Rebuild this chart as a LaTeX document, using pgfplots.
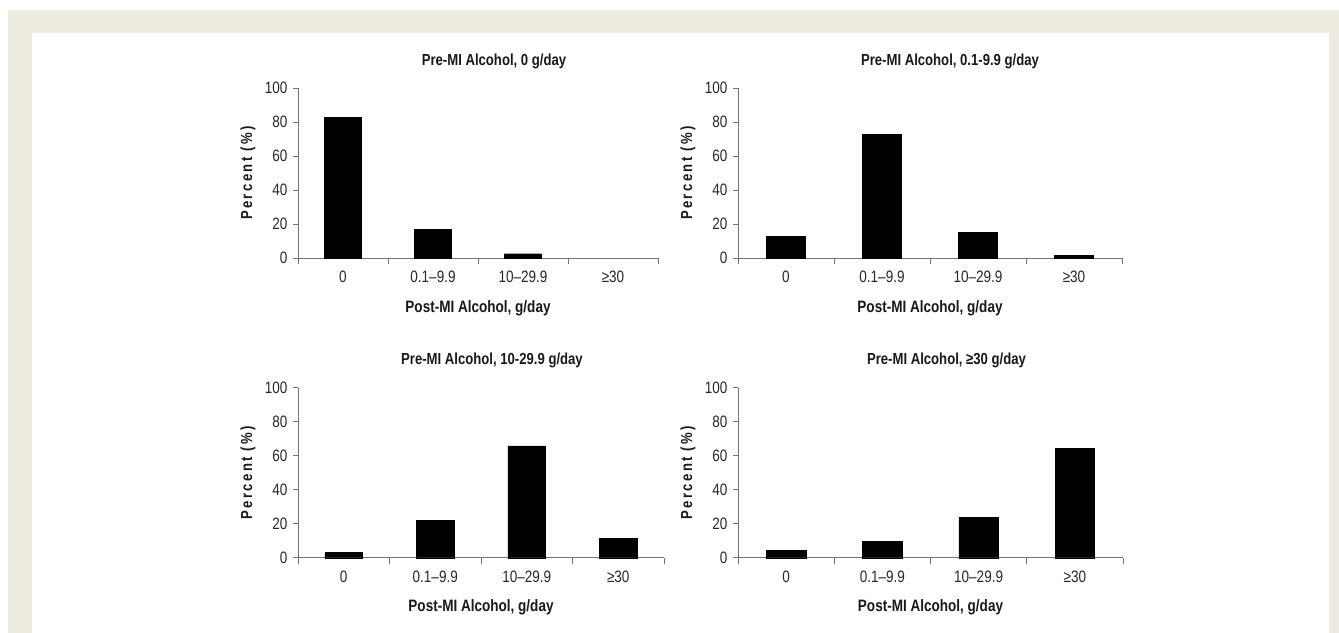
\documentclass[border=0pt]{standalone}
\usepackage{fontspec}
\setmainfont{Liberation Sans}[FakeStretch=0.82]
\usepackage{pgfplots}
\pgfplotsset{compat=1.18}
\usetikzlibrary{calc}

\definecolor{framebg}{RGB}{238,235,225}
\definecolor{axgray}{RGB}{115,115,115}
\definecolor{txt}{RGB}{40,40,40}

\pgfplotsset{
  panel/.style={
    scale only axis, height=170bp,
    ymin=0, ymax=100, ytick={0,20,...,100},
    xmin=-0.5, xmax=3.5,
    axis x line*=bottom, axis y line*=left,
    axis line style={axgray, line width=0.8bp},
    every tick/.style={axgray, line width=0.8bp},
    tick align=outside,
    major tick length=5bp, minor tick length=6bp,
    xtick={0,1,2,3},
    xticklabels={0,{0.1–9.9},{10–29.9},{≥30}},
    major x tick style={draw=none},
    minor xtick={-0.5,0.5,1.5,2.5,3.5},
    /pgf/number format/assume math mode=true,
    tick label style={font=\fontsize{16.5bp}{18bp}\selectfont, text=txt},
    xticklabel style={anchor=center, yshift=-14bp},
    yticklabel style={anchor=east, xshift=-2bp},
    every axis title/.style={at={(axis description cs:0.5,1)}, anchor=center,
      yshift=27bp, font=\fontsize{16bp}{18bp}\selectfont\bfseries, text=black!90},
    every axis x label/.style={at={(axis description cs:0.5,0)}, anchor=center,
      yshift=-50bp, font=\fontsize{16.5bp}{18bp}\selectfont\bfseries, text=black!90},
    every axis y label/.style={at={($(axis description cs:0,0.5)+(-50bp,0)$)}, anchor=center,
      rotate=90, font=\fontsize{16bp}{18bp}\selectfont\bfseries\addfontfeature{LetterSpace=15}, text=black!90},
    xlabel={Post-MI Alcohol, g/day},
    ylabel={Percent (\%)},
    clip=false,
  },
  bars/.style={ybar, bar width=0.41, bar shift=0, fill=black, draw=black},
}

\begin{document}
\begin{tikzpicture}
  % background and beige frame
  \fill[white] (0,0) rectangle (1339bp,633bp);
  \fill[framebg] (8bp,0) rectangle (1339bp,623bp);
  \fill[white] (32bp,0) rectangle (1329bp,600bp);

  \begin{axis}[panel, width=360bp, at={(298bp,375bp)}, anchor=south west,
      title={Pre-MI Alcohol, 0 g/day}, title style={xshift=16bp}]
    \addplot[bars] coordinates {(0,82.8) (1,17.0) (2,2.5)};
  \end{axis}

  \begin{axis}[panel, width=384bp, at={(738bp,375bp)}, anchor=south west,
      title={Pre-MI Alcohol, 0.1-9.9 g/day}, title style={xshift=20bp}]
    \addplot[bars] coordinates {(0,12.8) (1,72.8) (2,15.2) (3,1.5)};
  \end{axis}

  \begin{axis}[panel, width=366bp, at={(298bp,75.3bp)}, anchor=south west,
      title={Pre-MI Alcohol, 10-29.9 g/day}, title style={xshift=11bp}]
    \addplot[bars] coordinates {(0,3.0) (1,21.8) (2,65.8) (3,11.2)};
  \end{axis}

  \begin{axis}[panel, width=385bp, at={(738bp,75.3bp)}, anchor=south west,
      title={Pre-MI Alcohol, ≥30 g/day}, title style={xshift=16bp}]
    \addplot[bars] coordinates {(0,4.5) (1,9.7) (2,23.6) (3,64.2)};
  \end{axis}
\end{tikzpicture}
\end{document}
